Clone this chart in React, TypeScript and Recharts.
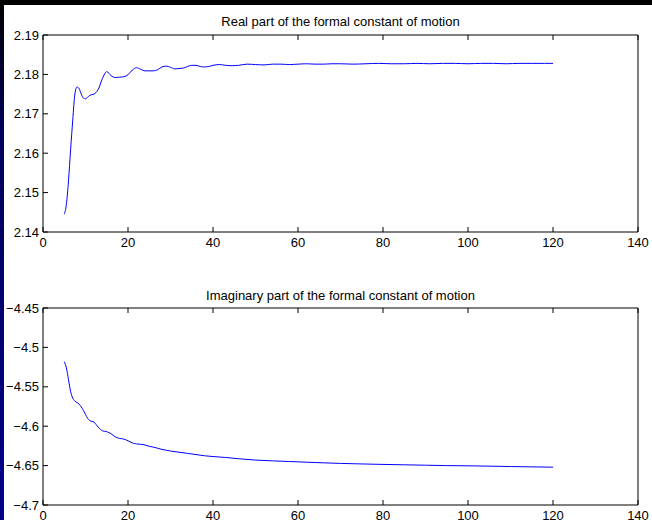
import React from "react";
import { LineChart, Line, XAxis, YAxis } from "recharts";

const xTicks = [0, 20, 40, 60, 80, 100, 120, 140];
const realTicks = [2.14, 2.15, 2.16, 2.17, 2.18, 2.19];
const imagTicks = [-4.7, -4.65, -4.6, -4.55, -4.5, -4.45];

const realTitle = "Real part of the formal constant of motion";
const imagTitle = "Imaginary part of the formal constant of motion";

const realX = [5, 5.5, 6, 6.5, 7, 7.5, 8, 8.5, 9, 9.5, 10, 10.5, 11, 12, 13, 14, 15, 16, 17, 18, 19, 20, 21, 22, 23, 24, 25, 26, 27, 28, 29, 30, 31, 32, 33, 34, 35, 36, 37, 38, 39, 40, 41.5, 43, 44.5, 46, 48, 50, 52, 54, 56, 58, 60, 62, 64, 66, 68, 70, 73, 76, 79, 82, 85, 88, 91, 94, 97, 100, 103, 106, 109, 112, 115, 118, 120];
const realY = [2.1445, 2.147, 2.153, 2.161, 2.1684, 2.175, 2.1768, 2.1764, 2.175, 2.174, 2.1738, 2.1742, 2.1747, 2.175, 2.1762, 2.179, 2.1807, 2.1797, 2.1792, 2.1793, 2.1794, 2.1799, 2.1811, 2.1817, 2.1813, 2.1809, 2.1809, 2.1809, 2.1812, 2.1819, 2.1821, 2.1818, 2.1814, 2.1815, 2.1816, 2.182, 2.1823, 2.1823, 2.182, 2.1819, 2.182, 2.1823, 2.1825, 2.1823, 2.1822, 2.1823, 2.1826, 2.1825, 2.1824, 2.1826, 2.1826, 2.1825, 2.1826, 2.1827, 2.1826, 2.1826, 2.1827, 2.1827, 2.1826, 2.1827, 2.1828, 2.1827, 2.1827, 2.1828, 2.1827, 2.1828, 2.1828, 2.1827, 2.1828, 2.1828, 2.1827, 2.1828, 2.1828, 2.1828, 2.1828];

const imagX = [5, 5.5, 6, 6.5, 7, 7.5, 8, 8.5, 9, 9.5, 10, 10.5, 11, 12, 13, 14, 15, 16, 17, 18, 19, 20, 21, 22, 23, 24, 25, 26, 27, 28, 29, 30, 32, 34, 36, 38, 40, 43, 46, 50, 54, 58, 62, 66, 70, 75, 80, 85, 90, 95, 100, 105, 110, 115, 120];
const imagY = [-4.518, -4.526, -4.541, -4.556, -4.5645, -4.568, -4.57, -4.572, -4.5755, -4.58, -4.585, -4.59, -4.5928, -4.5949, -4.6012, -4.6059, -4.607, -4.6095, -4.6135, -4.6155, -4.6163, -4.6185, -4.6212, -4.6225, -4.623, -4.6238, -4.6255, -4.6266, -4.628, -4.6295, -4.6305, -4.6315, -4.633, -4.6345, -4.636, -4.6375, -4.6385, -4.6397, -4.6413, -4.643, -4.644, -4.6448, -4.6457, -4.6465, -4.6472, -4.6479, -4.6485, -4.649, -4.6495, -4.65, -4.6503, -4.6507, -4.6512, -4.6516, -4.652];

const realData = realX.map((x, i) => ({ x, y: realY[i] }));
const imagData = imagX.map((x, i) => ({ x, y: imagY[i] }));

const FONT = "'Liberation Sans', Arial, Helvetica, sans-serif";
const FS = 13;
const TICK_LEN = 5;
const X_GAP = 6;
const Y_GAP = 4;
const lineStyle = { stroke: "#000", strokeWidth: 1 };

function fmtReal(v: number) {
  return v.toFixed(2);
}
function fmtImag(v: number) {
  const s = String(Math.round(Math.abs(v) * 100) / 100);
  return (v < 0 ? "\u2212" : "") + s;
}

function BottomTick(props: any) {
  const { x, y, payload } = props;
  const ay = y - X_GAP;
  return (
    <g>
      <line x1={x} x2={x} y1={ay} y2={ay - TICK_LEN} stroke="#000" strokeWidth={1} />
      <text x={x} y={y} dy="0.71em" textAnchor="middle" fill="#000" fontSize={FS} fontFamily={FONT}>
        {String(payload.value)}
      </text>
    </g>
  );
}

function TopTick(props: any) {
  const { x, y } = props;
  return <line x1={x} x2={x} y1={y} y2={y + TICK_LEN} stroke="#000" strokeWidth={1} />;
}

function RightTick(props: any) {
  const { x, y } = props;
  return <line x1={x} x2={x - TICK_LEN} y1={y} y2={y} stroke="#000" strokeWidth={1} />;
}

function makeLeftTick(fmt: (v: number) => string) {
  return function LeftTick(props: any) {
    const { x, y, payload } = props;
    const ax = x + Y_GAP;
    return (
      <g>
        <line x1={ax} x2={ax + TICK_LEN} y1={y} y2={y} stroke="#000" strokeWidth={1} />
        <text x={x} y={y} dy="0.35em" textAnchor="end" fill="#000" fontSize={FS} fontFamily={FONT}>
          {fmt(payload.value)}
        </text>
      </g>
    );
  };
}

function Panel(props: {
  data: { x: number; y: number }[];
  yTicks: number[];
  fmt: (v: number) => string;
  top: number;
  marginTop: number;
  xHeight: number;
  title: string;
  titleY: number;
}) {
  const { data, yTicks, fmt, top, marginTop, xHeight, title, titleY } = props;
  const domain: [number, number] = [yTicks[0], yTicks[yTicks.length - 1]];
  const LeftTick = makeLeftTick(fmt);
  return (
    <div style={{ position: "absolute", left: 0, top, width: 652, height: 260 }}>
      <div
        style={{
          position: "absolute",
          left: 43,
          width: 595,
          top: titleY,
          textAlign: "center",
          fontFamily: FONT,
          fontSize: FS,
          lineHeight: "15px",
          color: "#000",
          whiteSpace: "nowrap",
        }}
      >
        {title}
      </div>
      <LineChart
        width={652}
        height={260}
        data={data}
        margin={{ top: marginTop - 1, right: 13, left: 0, bottom: 0 }}
        style={{ position: "absolute", left: 0, top: 0 }}
      >
        <XAxis
          xAxisId="b"
          dataKey="x"
          type="number"
          domain={[0, 140]}
          ticks={xTicks}
          height={xHeight}
          tickSize={0}
          tickMargin={X_GAP}
          tick={<BottomTick />}
          axisLine={lineStyle}
          tickLine={false}
          interval={0}
        />
        <XAxis
          xAxisId="t"
          orientation="top"
          dataKey="x"
          type="number"
          domain={[0, 140]}
          ticks={xTicks}
          height={1}
          tickSize={0}
          tickMargin={0}
          tick={<TopTick />}
          axisLine={lineStyle}
          tickLine={false}
          interval={0}
        />
        <YAxis
          yAxisId="l"
          type="number"
          domain={domain}
          ticks={yTicks}
          width={43}
          tickSize={0}
          tickMargin={Y_GAP}
          tick={<LeftTick />}
          axisLine={lineStyle}
          tickLine={false}
          interval={0}
        />
        <YAxis
          yAxisId="r"
          orientation="right"
          type="number"
          domain={domain}
          ticks={yTicks}
          width={1}
          tickSize={0}
          tickMargin={0}
          tick={<RightTick />}
          axisLine={lineStyle}
          tickLine={false}
          interval={0}
        />
        <Line
          xAxisId="b"
          yAxisId="l"
          type="monotone"
          dataKey="y"
          stroke="#0000ff"
          strokeWidth={1}
          dot={false}
          isAnimationActive={false}
        />
      </LineChart>
    </div>
  );
}

export default function App() {
  return (
    <div
      style={{
        position: "fixed",
        left: 0,
        top: 0,
        width: 652,
        height: 520,
        background: "#fff",
        overflow: "hidden",
        fontFamily: FONT,
      }}
    >
      <div style={{ position: "absolute", left: 0, top: 0, width: 652, height: 5, background: "#000" }} />
      <div
        style={{
          position: "absolute",
          left: 0,
          top: 0,
          width: 4,
          height: 520,
          background: "linear-gradient(#000 0%, #00005a 25%, #000088 100%)",
        }}
      />
      <Panel
        data={realData}
        yTicks={realTicks}
        fmt={fmtReal}
        top={0}
        marginTop={35}
        xHeight={28}
        title={realTitle}
        titleY={14}
      />
      <Panel
        data={imagData}
        yTicks={imagTicks}
        fmt={fmtImag}
        top={260}
        marginTop={48}
        xHeight={15}
        title={imagTitle}
        titleY={28}
      />
    </div>
  );
}
